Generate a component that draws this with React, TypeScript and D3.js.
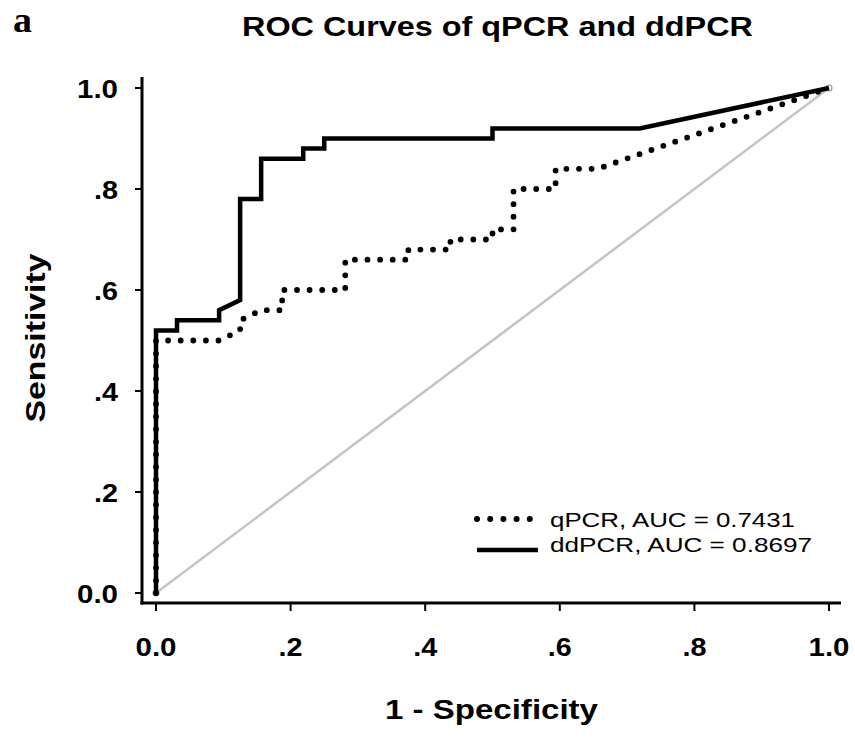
import React from "react";
import * as d3 from "d3";

// ---- Data ----
const xTicks = [0, 0.2, 0.4, 0.6, 0.8, 1.0];
const xTickLabels = ["0.0", ".2", ".4", ".6", ".8", "1.0"];
const yTicks = [0, 0.2, 0.4, 0.6, 0.8, 1.0];
const yTickLabels = ["0.0", ".2", ".4", ".6", ".8", "1.0"];

const ddpcrFpr = [0, 0, 0.03125, 0.03125, 0.09375, 0.09375, 0.125, 0.125, 0.15625, 0.15625, 0.21875, 0.21875, 0.25, 0.25, 0.5, 0.5, 0.71875, 1];
const ddpcrTpr = [0, 0.52, 0.52, 0.54, 0.54, 0.56, 0.58, 0.78, 0.78, 0.86, 0.86, 0.88, 0.88, 0.9, 0.9, 0.92, 0.92, 1];

const qpcrFpr = [0, 0, 0.09375, 0.125, 0.125, 0.15625, 0.1875, 0.1875, 0.28125, 0.28125, 0.375, 0.375, 0.4375, 0.4375, 0.5, 0.5, 0.53125, 0.53125, 0.59375, 0.59375, 0.65625, 1];
const qpcrTpr = [0, 0.5, 0.5, 0.52, 0.54, 0.56, 0.56, 0.6, 0.6, 0.66, 0.66, 0.68, 0.68, 0.7, 0.7, 0.72, 0.72, 0.8, 0.8, 0.84, 0.84, 1];

const refFpr = [0, 1];
const refTpr = [0, 1];

const legendLabels = ["qPCR, AUC = 0.7431", "ddPCR, AUC = 0.8697"];
const title = "ROC Curves of qPCR and ddPCR";

const FONT = "'Liberation Sans', Arial, sans-serif";

export default function App() {
  const x = d3.scaleLinear().domain([0, 1]).range([156, 829]);
  const y = d3.scaleLinear().domain([0, 1]).range([593, 88]);
  const line = d3
    .line<[number, number]>()
    .x((d) => x(d[0]))
    .y((d) => y(d[1]));

  const dd: [number, number][] = ddpcrFpr.map((v, i) => [v, ddpcrTpr[i]]);
  const qp: [number, number][] = qpcrFpr.map((v, i) => [v, qpcrTpr[i]]);
  const rf: [number, number][] = refFpr.map((v, i) => [v, refTpr[i]]);

  const axisX = 142;
  const axisY = 603;

  const tickW = (s: string) => (s.length === 3 ? 41 : 24);

  return (
    <svg
      width={855}
      height={738}
      style={{ position: "absolute", left: 0, top: 0, display: "block", background: "#fff" }}
    >
      <rect x={0} y={0} width={855} height={738} fill="#fff" />
      {/* panel letter */}
      <text
        x={13}
        y={31.5}
        fontFamily="'Liberation Serif', 'Times New Roman', serif"
        fontWeight="bold"
        fontSize={35}
        textLength={19}
        lengthAdjust="spacingAndGlyphs"
      >
        a
      </text>
      {/* title */}
      <text
        x={242}
        y={36}
        fontFamily={FONT}
        fontWeight="bold"
        fontSize={27}
        textLength={511}
        lengthAdjust="spacingAndGlyphs"
      >
        {title}
      </text>

      {/* reference diagonal */}
      <path d={line(rf) || ""} fill="none" stroke="#c4c4c4" strokeWidth={2.5} />
      {rf.map((p, i) => (
        <circle key={i} cx={x(p[0])} cy={y(p[1])} r={3} fill="#fff" stroke="#999" strokeWidth={1.2} />
      ))}

      {/* ddPCR solid */}
      <path d={line(dd) || ""} fill="none" stroke="#000" strokeWidth={4.5} strokeLinejoin="miter" />
      {/* qPCR dotted */}
      <path
        d={line(qp) || ""}
        fill="none"
        stroke="#000"
        strokeWidth={5.8}
        strokeLinecap="round"
        strokeDasharray="0 12.6"
      />

      {/* axes */}
      <line x1={axisX} y1={77} x2={axisX} y2={axisY + 1.5} stroke="#000" strokeWidth={3} />
      <line x1={axisX - 1.5} y1={axisY} x2={841} y2={axisY} stroke="#000" strokeWidth={3} />
      {yTicks.map((t, i) => (
        <g key={"y" + i}>
          <line x1={135} x2={axisX} y1={y(t)} y2={y(t)} stroke="#000" strokeWidth={2} />
          <text
            x={118}
            y={y(t) + 10}
            textAnchor="end"
            fontFamily={FONT}
            fontWeight="bold"
            fontSize={26}
            textLength={tickW(yTickLabels[i])}
            lengthAdjust="spacingAndGlyphs"
          >
            {yTickLabels[i]}
          </text>
        </g>
      ))}
      {xTicks.map((t, i) => (
        <g key={"x" + i}>
          <line x1={x(t)} x2={x(t)} y1={axisY} y2={611} stroke="#000" strokeWidth={2} />
          <text
            x={x(t)}
            y={655.5}
            textAnchor="middle"
            fontFamily={FONT}
            fontWeight="bold"
            fontSize={26}
            textLength={tickW(xTickLabels[i])}
            lengthAdjust="spacingAndGlyphs"
          >
            {xTickLabels[i]}
          </text>
        </g>
      ))}

      {/* axis labels */}
      <text
        x={491.5}
        y={719}
        textAnchor="middle"
        fontFamily={FONT}
        fontWeight="bold"
        fontSize={27}
        textLength={213}
        lengthAdjust="spacingAndGlyphs"
      >
        1 - Specificity
      </text>
      <text
        transform="translate(45,338) rotate(-90)"
        textAnchor="middle"
        fontFamily={FONT}
        fontWeight="bold"
        fontSize={28}
        textLength={169}
        lengthAdjust="spacingAndGlyphs"
      >
        Sensitivity
      </text>

      {/* legend */}
      <line
        x1={477}
        x2={531}
        y1={519}
        y2={519}
        stroke="#000"
        strokeWidth={6}
        strokeLinecap="round"
        strokeDasharray="0 13.2"
      />
      <text
        x={550}
        y={527}
        fontFamily={FONT}
        fontSize={21}
        textLength={245}
        lengthAdjust="spacingAndGlyphs"
      >
        {legendLabels[0]}
      </text>
      <line x1={477} x2={538} y1={550} y2={550} stroke="#000" strokeWidth={4.5} />
      <text
        x={550}
        y={552}
        fontFamily={FONT}
        fontSize={21}
        textLength={262}
        lengthAdjust="spacingAndGlyphs"
      >
        {legendLabels[1]}
      </text>
    </svg>
  );
}
